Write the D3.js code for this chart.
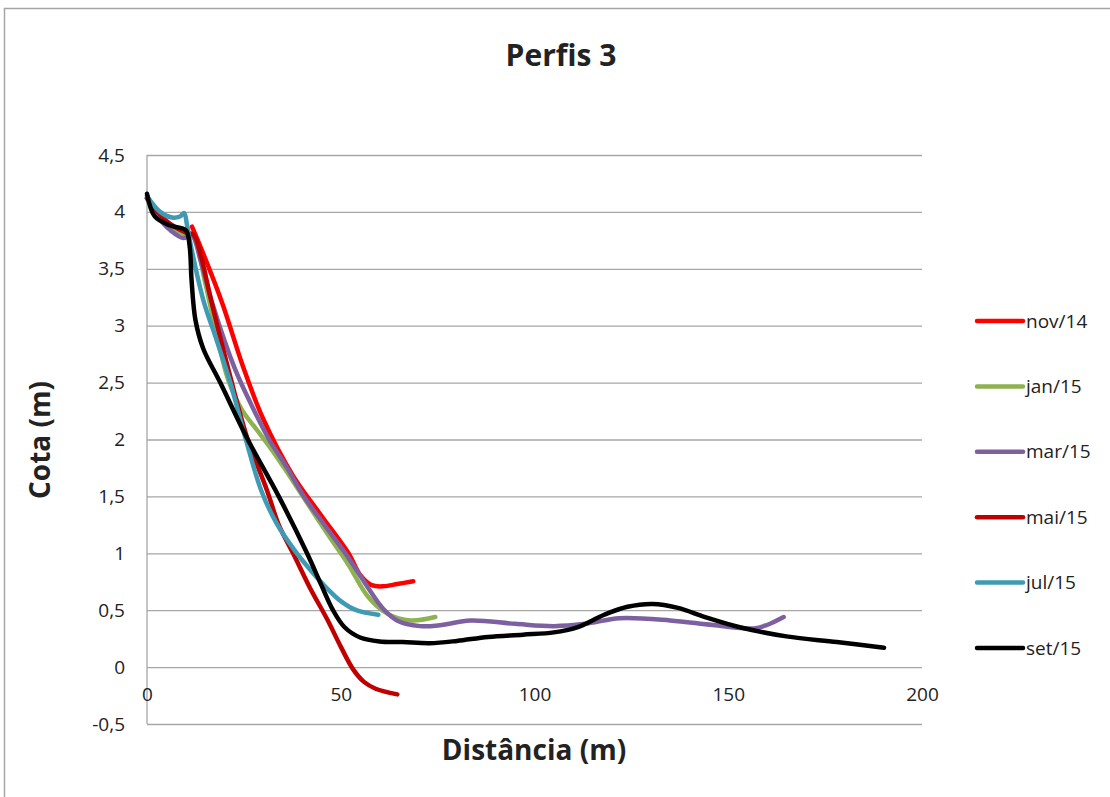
<!DOCTYPE html>
<html>
<head>
<meta charset="utf-8">
<script src="https://cdn.jsdelivr.net/npm/d3@7"></script>
<style>
  body { margin: 0; background: #fff; }
  text { font-family: "Open Sans", "Noto Sans", sans-serif; fill: #222; }
</style>
</head>
<body>
<div id="chart"></div>
<script>
// Perfis 3 - distance vs elevation, one line per survey date

var seriesNames = ["nov/14", "jan/15", "mar/15", "mai/15", "jul/15", "set/15"];

var nov14Dist = [11.6, 14.2, 19.4, 24.8, 30, 37.7, 45, 52, 55, 58, 61, 64.6, 68.7];
var nov14Cota = [3.87, 3.66, 3.2, 2.64, 2.18, 1.68, 1.33, 1.0, 0.81, 0.72, 0.71, 0.73, 0.755];

var jan15Dist = [0, 5, 10, 12, 15, 18, 21, 24.5, 28, 32, 36, 40.8, 46, 52, 57, 62, 68, 74.4];
var jan15Cota = [4.12, 3.9, 3.8, 3.78, 3.38, 2.92, 2.52, 2.26, 2.1, 1.92, 1.72, 1.47, 1.2, 0.9, 0.62, 0.47, 0.41, 0.44];

var mar15Dist = [0, 3, 6, 9.5, 11.5, 14, 17, 22.7, 27, 31.5, 36, 40.5, 46, 52, 57, 61, 64.5, 70.5, 76, 83.5, 95, 105, 113, 122, 135, 146, 156.6, 160, 164.3];
var mar15Cota = [4.12, 3.95, 3.84, 3.77, 3.8, 3.55, 3.18, 2.62, 2.3, 2.0, 1.76, 1.5, 1.24, 0.96, 0.7, 0.51, 0.41, 0.36, 0.37, 0.41, 0.38, 0.36, 0.38, 0.43, 0.41, 0.37, 0.34, 0.37, 0.44];

var mai15Dist = [0, 5, 10, 12, 14, 16.5, 21.5, 26, 31, 34, 37.7, 42, 46.5, 50, 53.2, 56, 59, 64.6];
var mai15Cota = [4.12, 3.92, 3.82, 3.8, 3.6, 3.23, 2.55, 2.0, 1.55, 1.25, 1.0, 0.7, 0.42, 0.18, -0.02, -0.13, -0.19, -0.24];

var jul15Dist = [0, 3.4, 6.5, 8.5, 9.6, 10.3, 11.1, 14.5, 18, 21.5, 25.5, 29.5, 33.5, 38, 42, 46.5, 50, 54, 59.7];
var jul15Cota = [4.14, 4.0, 3.95, 3.96, 3.99, 3.89, 3.74, 3.23, 2.87, 2.5, 2.0, 1.55, 1.26, 1.03, 0.86, 0.69, 0.58, 0.5, 0.46];

var set15Dist = [0, 2, 6, 10, 11, 11.5, 12.5, 14.5, 18.9, 26, 34, 41.3, 45, 48, 51, 55, 60, 66, 73, 80, 88, 97, 105, 111, 118, 124, 130.5, 137, 144, 153, 165, 178, 190.2];
var set15Cota = [4.16, 3.96, 3.88, 3.84, 3.7, 3.4, 3.05, 2.8, 2.5, 2.0, 1.5, 1.0, 0.72, 0.5, 0.35, 0.26, 0.225, 0.22, 0.21, 0.23, 0.265, 0.285, 0.305, 0.35, 0.46, 0.53, 0.555, 0.52, 0.44, 0.35, 0.27, 0.22, 0.17];

var yTicks = [-0.5, 0, 0.5, 1, 1.5, 2, 2.5, 3, 3.5, 4, 4.5];
var xTicks = [0, 50, 100, 150, 200];

var colors = ["#ff0000", "#8db24f", "#7d60a0", "#c00000", "#3f9ab4", "#000000"];

var allDist = [nov14Dist, jan15Dist, mar15Dist, mai15Dist, jul15Dist, set15Dist];
var allCota = [nov14Cota, jan15Cota, mar15Cota, mai15Cota, jul15Cota, set15Cota];

var data = seriesNames.map(function(name, i) {
    return {
        name: name,
        color: colors[i],
        points: allDist[i].map(function(d, j) { return {dist: d, cota: allCota[i][j]}; })
    };
});

// SVG dimensions
var svgWidth = 1110;
var svgHeight = 797;

var margin = { top: 155, left: 147 };
var plotWidth = 775;
var plotHeight = 569;

var svg = d3.select("#chart")
    .append("svg")
    .attr("width", svgWidth)
    .attr("height", svgHeight);

// outer chart border
svg.append("rect")
    .attr("x", 4.5)
    .attr("y", 8.5)
    .attr("width", 1120)
    .attr("height", 820)
    .attr("fill", "none")
    .attr("stroke", "#a6a6a6")
    .attr("stroke-width", 1.5);

var chartGroup = svg.append("g")
    .attr("transform", `translate(${margin.left}, ${margin.top})`);

var xScale = d3.scaleLinear()
    .domain([0, 200])
    .range([0, plotWidth]);

var yScale = d3.scaleLinear()
    .domain([-0.5, 4.5])
    .range([plotHeight, 0]);

var fmt = function(v) { return String(v).replace(".", ","); };

// gridlines + y labels
var yAxis = d3.axisLeft(yScale)
    .tickValues(yTicks)
    .tickSize(-plotWidth)
    .tickPadding(22)
    .tickFormat(fmt);

var yAxisG = chartGroup.append("g").call(yAxis);
yAxisG.select(".domain").remove();
yAxisG.selectAll(".tick line")
    .attr("stroke", "#a6a6a6")
    .attr("stroke-width", 1.3);
yAxisG.selectAll(".tick text")
    .style("font-size", "19px")
    .style("font-family", "'Open Sans', sans-serif")
    .attr("fill", "#222");

// vertical axis line
chartGroup.append("line")
    .attr("x1", 0).attr("x2", 0)
    .attr("y1", 0).attr("y2", plotHeight)
    .attr("stroke", "#a6a6a6")
    .attr("stroke-width", 1.3);

// x labels sit below the zero line
var xAxis = d3.axisBottom(xScale)
    .tickValues(xTicks)
    .tickSize(0)
    .tickPadding(20)
    .tickFormat(fmt);

var xAxisG = chartGroup.append("g")
    .attr("transform", `translate(0, ${yScale(0)})`)
    .call(xAxis);
xAxisG.select(".domain").remove();
xAxisG.selectAll(".tick text")
    .style("font-size", "19px")
    .style("font-family", "'Open Sans', sans-serif")
    .attr("fill", "#222");

// lines
var line = d3.line()
    .x(d => xScale(d.dist))
    .y(d => yScale(d.cota))
    .curve(d3.curveCatmullRom.alpha(0.5));

chartGroup.selectAll(".serie")
    .data(data)
    .enter()
    .append("path")
    .attr("class", "serie")
    .attr("d", d => line(d.points))
    .attr("fill", "none")
    .attr("stroke", d => d.color)
    .attr("stroke-width", 4.5)
    .attr("stroke-linecap", "round")
    .attr("stroke-linejoin", "round");

// legend
var legend = svg.append("g")
    .attr("transform", "translate(975, 321)");

var legendItems = legend.selectAll("g")
    .data(data)
    .enter()
    .append("g")
    .attr("transform", (d, i) => `translate(0, ${i * 65.4})`);

legendItems.append("line")
    .attr("x1", 2).attr("x2", 48)
    .attr("y1", 0).attr("y2", 0)
    .attr("stroke", d => d.color)
    .attr("stroke-width", 4.5)
    .attr("stroke-linecap", "round");

legendItems.append("text")
    .attr("x", 51)
    .attr("y", 0)
    .attr("dy", "0.35em")
    .style("font-size", "19px")
    .text(d => d.name);

// titles
svg.append("text")
    .attr("x", 561)
    .attr("y", 66)
    .attr("text-anchor", "middle")
    .style("font-size", "30px")
    .style("font-weight", "bold")
    .text("Perfis 3");

svg.append("text")
    .attr("x", 534)
    .attr("y", 760)
    .attr("text-anchor", "middle")
    .style("font-size", "28px")
    .style("font-weight", "bold")
    .text("Distância (m)");

svg.append("text")
    .attr("transform", "translate(50, 440) rotate(-90)")
    .attr("text-anchor", "middle")
    .style("font-size", "28px")
    .style("font-weight", "bold")
    .text("Cota (m)");
</script>
</body>
</html>
